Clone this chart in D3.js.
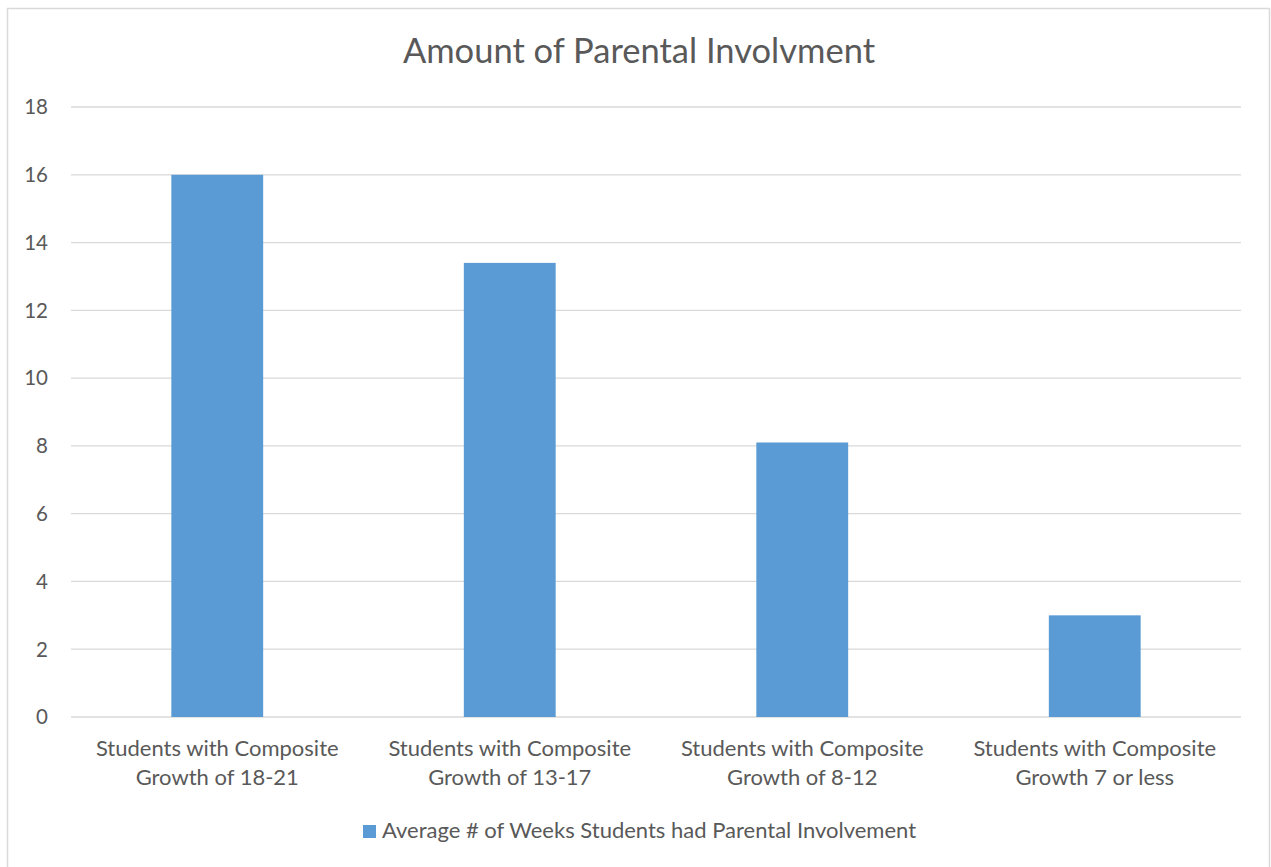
<!DOCTYPE html>
<html>
<head>
<meta charset="utf-8">
<script src="https://cdn.jsdelivr.net/npm/d3@7"></script>
<style>
  body { margin: 0; background: #fff; }
  svg { display: block; font-family: Lato, "Open Sans", sans-serif; }
</style>
</head>
<body>
<svg id="chart" width="1271" height="867"></svg>
<script>
const categories = [
  ["Students with Composite", "Growth of 18-21"],
  ["Students with Composite", "Growth of 13-17"],
  ["Students with Composite", "Growth of 8-12"],
  ["Students with Composite", "Growth 7 or less"]
];
const values = [16, 13.4, 8.1, 3];
const yTicks = [0, 2, 4, 6, 8, 10, 12, 14, 16, 18];
const seriesName = "Average # of Weeks Students had Parental Involvement";
const title = "Amount of Parental Involvment";

const svg = d3.select("#chart");
const textColor = "#595959";
const barColor = "#5b9bd5";

// chart border
svg.append("rect")
  .attr("x", 7.5).attr("y", 8.5)
  .attr("width", 1262).attr("height", 870)
  .attr("fill", "#fff")
  .attr("stroke", "#d9d9d9")
  .attr("stroke-width", 1.5);

const margin = {left: 71, right: 1241, top: 107, bottom: 717};

const x = d3.scaleBand()
  .domain(d3.range(categories.length))
  .range([margin.left, margin.right])
  .paddingInner(0.686)
  .paddingOuter(0.343);

const y = d3.scaleLinear()
  .domain([0, 18])
  .range([margin.bottom, margin.top]);

// gridlines
svg.append("g")
  .selectAll("line")
  .data(yTicks)
  .join("line")
  .attr("x1", margin.left).attr("x2", margin.right)
  .attr("y1", d => y(d)).attr("y2", d => y(d))
  .attr("stroke", "#d9d9d9")
  .attr("stroke-width", 1.3);

// y tick labels
svg.append("g")
  .selectAll("text")
  .data(yTicks)
  .join("text")
  .attr("x", 48)
  .attr("y", d => y(d))
  .attr("dy", "0.36em")
  .attr("text-anchor", "end")
  .attr("fill", textColor)
  .attr("font-size", 20.5)
  .text(d => d);

// bars
svg.append("g")
  .selectAll("rect")
  .data(values)
  .join("rect")
  .attr("x", (d, i) => x(i))
  .attr("width", x.bandwidth())
  .attr("y", d => y(d))
  .attr("height", d => y(0) - y(d))
  .attr("fill", barColor);

// category labels
const cat = svg.append("g")
  .selectAll("text")
  .data(categories)
  .join("text")
  .attr("x", (d, i) => x(i) + x.bandwidth() / 2)
  .attr("y", 756)
  .attr("text-anchor", "middle")
  .attr("fill", textColor)
  .attr("font-size", 22);
cat.selectAll("tspan")
  .data(d => d)
  .join("tspan")
  .attr("x", function() { return d3.select(this.parentNode).attr("x"); })
  .attr("dy", (d, i) => i === 0 ? 0 : 29)
  .text(d => d);

// title
svg.append("text")
  .attr("x", 639)
  .attr("y", 63)
  .attr("text-anchor", "middle")
  .attr("fill", textColor)
  .attr("font-size", 34.5)
  .text(title);

// legend
svg.append("rect")
  .attr("x", 363).attr("y", 825)
  .attr("width", 13).attr("height", 13)
  .attr("fill", barColor);
svg.append("text")
  .attr("x", 382).attr("y", 838)
  .attr("fill", textColor)
  .attr("font-size", 22)
  .text(seriesName);
</script>
</body>
</html>
